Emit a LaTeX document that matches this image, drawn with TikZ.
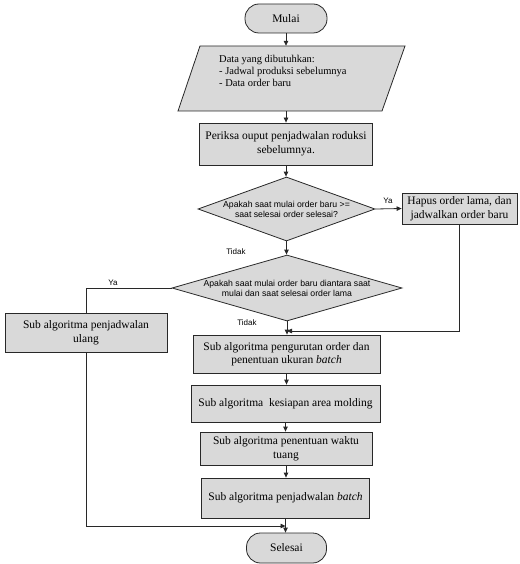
\documentclass[tikz,border=0pt]{standalone}
\usepackage{fontspec}
\setmainfont{Liberation Serif}
\newfontfamily\lsans{Liberation Sans}
\usetikzlibrary{arrows.meta,shapes.geometric}
\definecolor{boxgray}{RGB}{217,217,217}
\definecolor{lin}{RGB}{40,40,40}
\begin{document}
\begin{tikzpicture}[x=1pt,y=-1pt,
  line/.style={draw=lin, line width=0.8pt},
  arr/.style={line, -{Triangle[length=5pt,width=4.5pt]}},
  box/.style={draw=lin, line width=0.8pt, fill=boxgray, align=center,
    font=\fontsize{11.5}{13.5}\selectfont, inner sep=1pt},
  term/.style={box, rounded corners=14pt},
  dia/.style={diamond, draw=lin, line width=0.8pt, fill=boxgray, inner sep=0pt},
  dtext/.style={font=\lsans\fontsize{8.7}{9.5}\selectfont, align=center, inner sep=0pt},
  lab/.style={font=\lsans\fontsize{8}{10}\selectfont, inner sep=0pt}
]
\useasboundingbox (0,0) rectangle (519,564);

% terminals and boxes
\node[term, minimum width=82pt, minimum height=29pt] (mulai) at (286,18.5) {Mulai};

\draw[line, fill=boxgray] (200,46) -- (405,46) -- (382,111) -- (178,111) -- cycle;
\node[minimum width=205pt, minimum height=65pt, inner sep=0pt] (data) at (291.5,78.5) {};
\node[anchor=west, align=left, inner sep=0pt, font=\fontsize{10.5}{12}\selectfont] (datatext) at (219,71)
  {Data yang dibutuhkan:\\- Jadwal produksi sebelumnya\\- Data order baru};

\node[box, minimum width=173pt, minimum height=42pt] (periksa) at (286,144)
  {Periksa ouput penjadwalan roduksi\\sebelumnya.};

\node[dia, minimum width=177pt, minimum height=64pt] (d1) at (286.5,209) {};
\node[dtext] (d1t) at (286.5,209.5) {Apakah saat mulai order baru >=\\saat selesai order selesai?};

\node[box, minimum width=115pt, minimum height=31pt] (hapus) at (459.5,208.5)
  {Hapus order lama, dan\\jadwalkan order baru};

\node[dia, minimum width=230pt, minimum height=66pt] (d2) at (287,288) {};
\node[dtext] (d2t) at (287,288.5) {Apakah saat mulai order baru diantara saat\\mulai dan saat selesai order lama};

\node[box, minimum width=162pt, minimum height=39pt] (ulang) at (86,332.5)
  {Sub algoritma penjadwalan\\ulang};

\node[box, minimum width=187pt, minimum height=38pt] (urut) at (286.5,354)
  {Sub algoritma pengurutan order dan\\penentuan ukuran \textit{batch}};
\node[box, minimum width=189pt, minimum height=37pt] (siap) at (285.5,403.5)
  {Sub algoritma\ \ kesiapan area molding};
\node[box, minimum width=172pt, minimum height=33pt] (waktu) at (286,448.5)
  {Sub algoritma penentuan waktu\\tuang};
\node[box, minimum width=168pt, minimum height=40pt] (batch) at (285.5,498)
  {Sub algoritma penjadwalan \textit{batch}};
\node[term, minimum width=80pt, minimum height=30pt] (selesai) at (286.5,548) {Selesai};

% join points
\coordinate (j1) at (287,331);
\coordinate (j2) at (285.5,526);

% connectors
\draw[arr] (mulai.south) -- (mulai.south |- data.north);
\draw[arr] (periksa.north |- data.south) -- (periksa.north);
\draw[arr] (periksa.south) -- (periksa.south |- d1.north);
\draw[arr] (d1.south) -- (d1.south |- d2.north);
\draw[arr] (d1.east) -- (hapus.west);
\draw[arr] (hapus.south) |- (j1);
\draw[arr] (d2.south) -- (d2.south |- urut.north);
\draw[line] (d2.west) -| (ulang.north);
\draw[arr] (urut.south) -- (urut.south |- siap.north);
\draw[arr] (siap.south) -- (siap.south |- waktu.north);
\draw[arr] (waktu.south) -- (waktu.south |- batch.north);
\draw[arr] (batch.south) -- (batch.south |- selesai.north);
\draw[arr] (ulang.south) |- (j2);

% labels
\node[lab] (ya1) at (388,201) {Ya};
\node[lab] (tidak1) at (236,252) {Tidak};
\node[lab] (ya2) at (113,283) {Ya};
\node[lab] (tidak2) at (247,323) {Tidak};
\end{tikzpicture}
\end{document}
